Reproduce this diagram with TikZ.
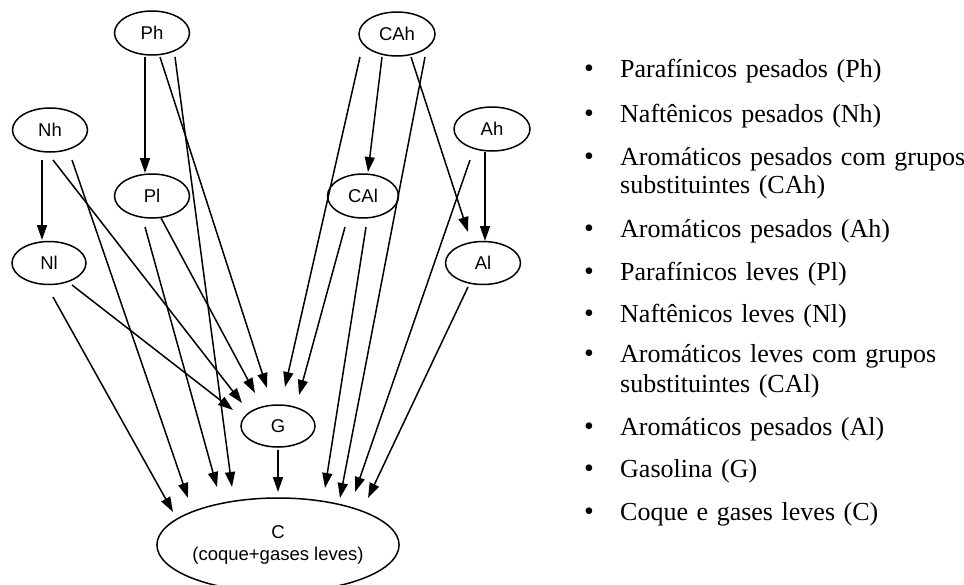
\documentclass[tikz,border=0pt]{standalone}
\usepackage{fontspec}
\setmainfont{Liberation Serif}
\newfontfamily\graphfont{Liberation Sans}
\usetikzlibrary{shapes.geometric,arrows.meta,calc}
\newcommand\legendfont{\fontsize{26}{30}\selectfont\spaceskip=0.33em plus 0.1em\relax}

\begin{document}
\begin{tikzpicture}[x=1pt,y=-1pt,
  lump/.style={ellipse,draw,line width=1.5pt,inner sep=0pt,
    minimum width=75pt,minimum height=44pt,
    font=\graphfont\fontsize{18.5}{22}\selectfont,align=center},
  edge/.style={line width=1.5pt,-{Triangle[length=15pt,width=10pt]}},
  itemtext/.style={anchor=base west,inner sep=0pt,font=\legendfont},
  bullet/.style={anchor=base,inner sep=0pt,font=\fontsize{28}{30}\selectfont}]

\useasboundingbox (0,0) rectangle (964,584);

% lumps of the kinetic model
\node[lump] (Ph)  at (152,33)  {Ph};
\node[lump,minimum width=76pt] (CAh) at (397,34) {CAh};
\node[lump] (Nh)  at (50,130)  {Nh};
\node[lump,minimum width=76pt] (Ah) at (492,129) {Ah};
\node[lump] (Pl)  at (152,196) {Pl};
\node[lump,minimum width=71pt] (CAl) at (363,196) {CAl};
\node[lump,minimum width=74pt,minimum height=43pt] (Nl) at (49,263) {Nl};
\node[lump,minimum height=43pt] (Al) at (483,263) {Al};
\node[lump,minimum width=74pt,minimum height=42pt] (G) at (278,426) {G};
\node[lump,minimum width=238pt,minimum height=94pt] (C) at (278,545)
  {C\\(coque+gases leves)};

% naphthenics
\draw[edge] ($(Nh)+(-8,30)$) -- ($(Nl)+(-7,-23)$);
\draw[edge] ($(Nh)+(3,30)$)  -- ($(G)+(-36,-23)$);
\draw[edge] ($(Nh)+(22,30)$) -- ($(C)+(-90,-47)$);
\draw[edge] ($(Nl)+(23,22)$) -- ($(G)+(-45,-16)$);
\draw[edge] ($(Nl)+(4,34)$)  -- ($(C)+(-105,-33)$);

% paraffinics
\draw[edge] ($(Ph)+(-7,24)$) -- ($(Pl)+(-7,-23)$);
\draw[edge] ($(Ph)+(8,24)$)  -- ($(G)+(-11,-38)$);
\draw[edge] ($(Ph)+(23,24)$) -- ($(C)+(-46,-58)$);
\draw[edge] ($(Pl)+(-7,31)$) -- ($(C)+(-61,-58)$);
\draw[edge] ($(Pl)+(9,22)$)  -- ($(G)+(-23,-33)$);

% aromatics with substituent groups
\draw[edge] ($(CAh)+(-37,23)$) -- ($(G)+(7,-39)$);
\draw[edge] ($(CAh)+(-15,23)$) -- ($(CAl)+(5,-24)$);
\draw[edge] ($(CAh)+(14,23)$)  -- ($(Al)+(-15,-31)$);
\draw[edge] ($(CAh)+(28,23)$)  -- ($(C)+(62,-47)$);
\draw[edge] ($(CAl)+(-18,31)$) -- ($(G)+(21,-31)$);
\draw[edge] ($(CAl)+(3,31)$)   -- ($(C)+(47,-57)$);

% aromatics
\draw[edge] ($(Ah)+(-7,23)$)  -- ($(Al)+(2,-22)$);
\draw[edge] ($(Ah)+(-22,31)$) -- ($(C)+(77,-53)$);
\draw[edge] ($(Al)+(-15,24)$) -- ($(C)+(90,-47)$);

% gasoline
\draw[edge] ($(G)+(0,24)$) -- ($(C)+(0,-53)$);

% legend
\foreach \y/\name in {77/b1,122/b2,165/b3,237/b4,280/b5,322/b6,362/b7,435/b8,477/b9,520/b10}
  \node[bullet] (\name) at (589,\y) {•};
\node[itemtext] (t1)  at (620,77)  {Parafínicos pesados (Ph)};
\node[itemtext] (t2)  at (620,122) {Naftênicos pesados (Nh)};
\node[itemtext] (t3)  at (620,165) {Aromáticos pesados com grupos};
\node[itemtext] (t3b) at (620,193) {substituintes (CAh)};
\node[itemtext] (t4)  at (620,237) {Aromáticos pesados (Ah)};
\node[itemtext] (t5)  at (620,280) {Parafínicos leves (Pl)};
\node[itemtext] (t6)  at (620,322) {Naftênicos leves (Nl)};
\node[itemtext] (t7)  at (620,362) {Aromáticos leves com grupos};
\node[itemtext] (t7b) at (620,392) {substituintes (CAl)};
\node[itemtext] (t8)  at (620,435) {Aromáticos pesados (Al)};
\node[itemtext] (t9)  at (620,477) {Gasolina (G)};
\node[itemtext] (t10) at (620,520) {Coque e gases leves (C)};
\end{tikzpicture}
\end{document}
